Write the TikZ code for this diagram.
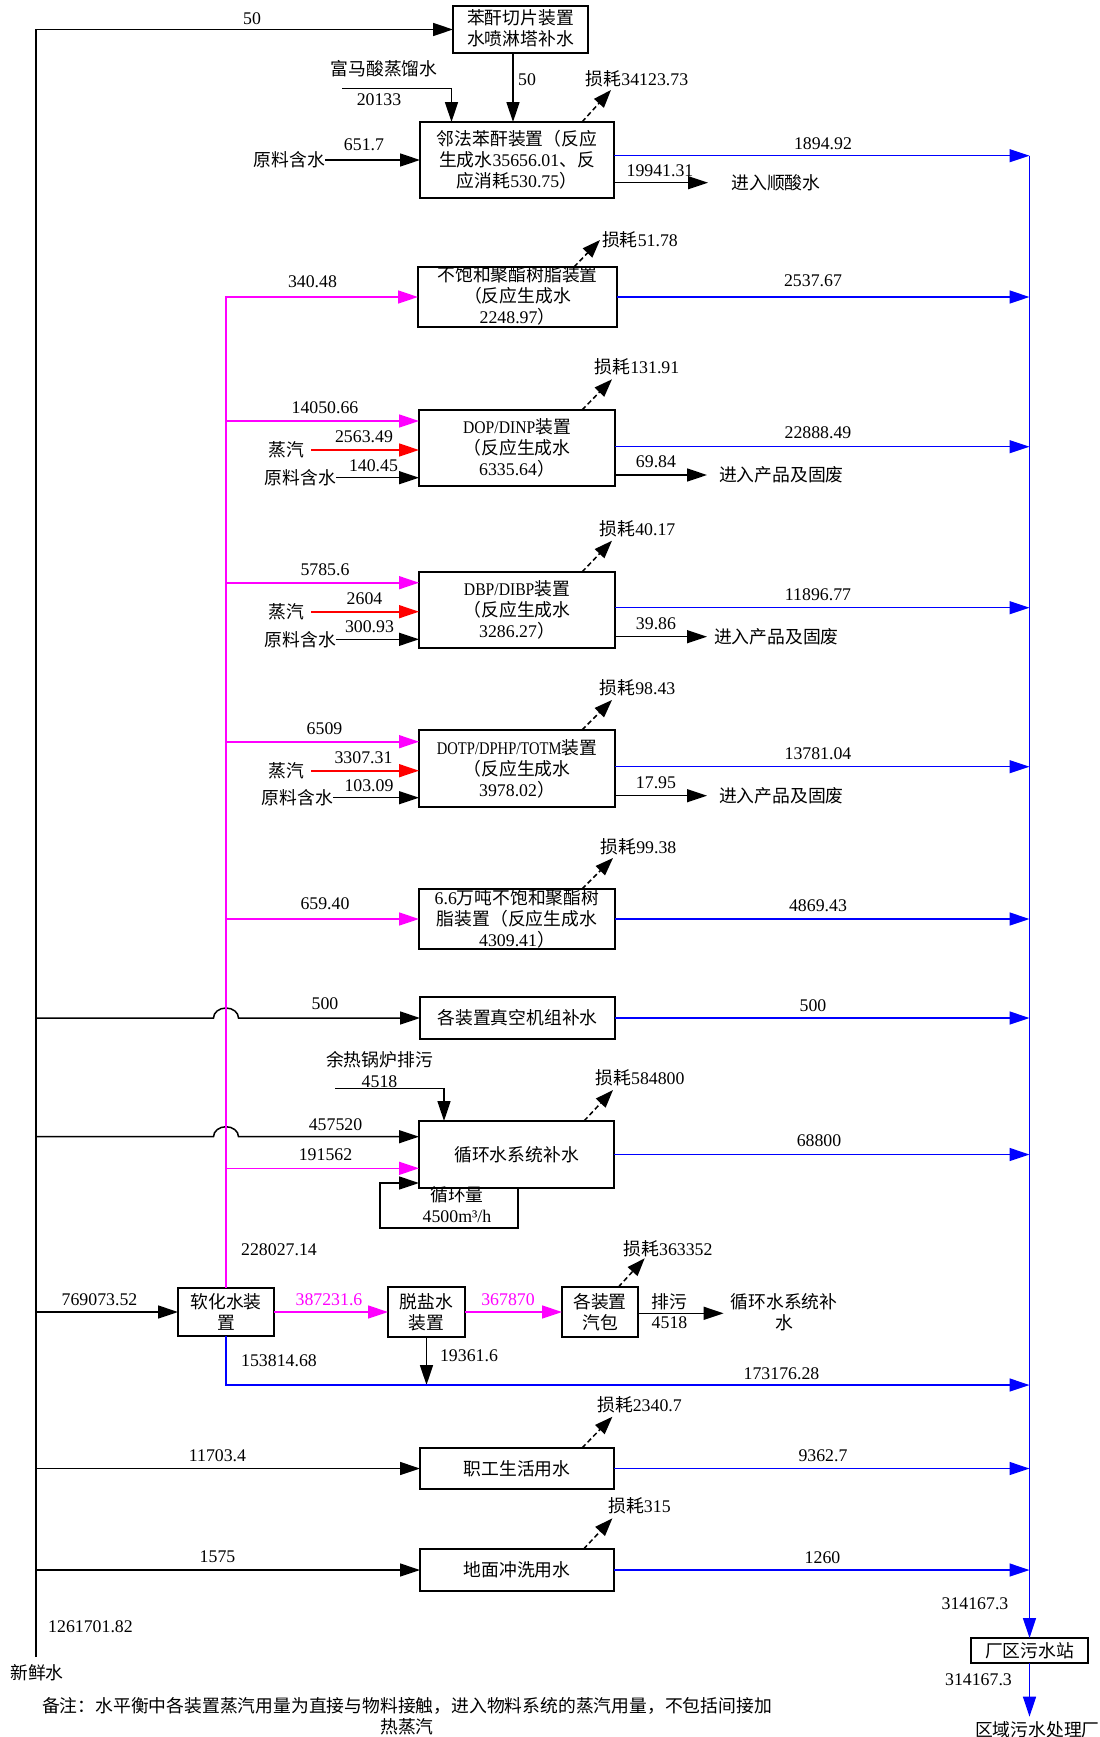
\documentclass[tikz,border=0pt]{standalone}
\usepackage{graphicx}
\usepackage{fontspec}
\setmainfont{Liberation Serif}
\newfontfamily\zhfont{Noto Sans CJK SC}
\newcommand\zh[1]{{\zhfont #1}}
\newcommand\nar[2]{\scalebox{#1}[1]{#2}}
\usetikzlibrary{arrows.meta,calc}
\definecolor{mag}{RGB}{255,0,255}
\definecolor{blu}{RGB}{0,0,255}
\definecolor{rd}{RGB}{255,0,0}
\tikzset{
  every node/.style={font=\fontsize{17.8}{21}\selectfont, inner sep=0pt, outer sep=0pt},
  box/.style 2 args={draw, line width=1.4pt, minimum width=#1pt, minimum height=#2pt},
  btxt/.style={align=center},
  tipA/.style={-{Triangle[length=20pt,width=13pt]}},
  blk/.style={draw=black, line width=1.5pt, tipA},
  blkl/.style={draw=black, line width=1.5pt},
  mga/.style={draw=mag, line width=1.6pt, tipA},
  mgl/.style={draw=mag, line width=1.6pt},
  rda/.style={draw=rd, line width=1.6pt, tipA},
  blua/.style={draw=blu, line width=1.4pt, tipA},
  loss/.style={draw=black, line width=1.5pt, dash pattern=on 5pt off 3pt, -{Triangle[length=18pt,width=13pt]}},
}
\begin{document}
\begin{tikzpicture}[x=1pt,y=-1pt]
\useasboundingbox (0,0) rectangle (1100,1737);

% ---------- boxes ----------
\node[box={135}{47}] (bq) at (520.5,29.5) {};
\node[btxt] (tbq) at (520.5,28) {\zh{苯酐切片装置}\\\zh{水喷淋塔补水}};
\node[box={194}{76}] (b1) at (517,160) {};
\node[btxt] (tb1) at (b1) {\zh{邻法苯酐装置（反应}\\\zh{生成水}35656.01\zh{、反}\\\zh{应消耗}530.75\zh{）}};
\node[box={199}{60}] (b2) at (517.5,297) {};
\node[btxt] (tb2) at (517.5,296) {\zh{不饱和聚酯树脂装置}\\\zh{（反应生成水}\\2248.97\zh{）}};
\node[box={196}{76}] (b3) at (517,448) {};
\node[btxt] (tb3) at (b3) {\nar{0.88}{DOP/DINP}\zh{装置}\\\zh{（反应生成水}\\6335.64\zh{）}};
\node[box={196}{76}] (b4) at (517,610) {};
\node[btxt] (tb4) at (b4) {\nar{0.88}{DBP/DIBP}\zh{装置}\\\zh{（反应生成水}\\3286.27\zh{）}};
\node[box={196}{77}] (b5) at (517,768.5) {};
\node[btxt] (tb5) at (b5) {\nar{0.82}{DOTP/DPHP/TOTM}\zh{装置}\\\zh{（反应生成水}\\3978.02\zh{）}};
\node[box={196}{60}] (b6) at (517,919) {};
\node[btxt] (tb6) at (517,918.5) {6.6\zh{万吨不饱和聚酯树}\\\zh{脂装置（反应生成水}\\4309.41\zh{）}};
\node[box={195}{42}] (b7) at (517.5,1018) {};
\node (tb7) at (b7) {\zh{各装置真空机组补水}};
\node[box={195}{67}] (b8) at (516.5,1154.5) {};
\node (tb8) at (b8) {\zh{循环水系统补水}};
\node[box={96}{48}] (b9) at (226,1312) {};
\node[btxt] (tb9) at (b9) {\zh{软化水装}\\\zh{置}};
\node[box={77}{50}] (b10) at (426.5,1312) {};
\node[btxt] (tb10) at (b10) {\zh{脱盐水}\\\zh{装置}};
\node[box={76}{50}] (b11) at (600,1312) {};
\node[btxt] (tb11) at (b11) {\zh{各装置}\\\zh{汽包}};
\node[box={194}{41}] (b12) at (517,1468.5) {};
\node (tb12) at (b12) {\zh{职工生活用水}};
\node[box={194}{42}] (b13) at (517,1570) {};
\node (tb13) at (b13) {\zh{地面冲洗用水}};
\node[box={117}{25}] (b14) at (1029.5,1650.5) {};
\node (tb14) at (b14) {\zh{厂区污水站}};

% ---------- coordinates ----------
\coordinate (fw) at (36,1657);
\coordinate (fa) at (342,88.3);
\coordinate (u1) at (1029.5,155.7);
\coordinate (u3) at (1029.5,446.7);
\coordinate (u4) at (1029.5,607.7);
\coordinate (u5) at (1029.5,766.7);
\coordinate (u10) at (1029.5,1385);
\coordinate (rg) at (1029.5,1716.7);
\coordinate (o1) at (708,182.7);
\coordinate (o3) at (707,475);
\coordinate (o4) at (707,636.7);
\coordinate (o5) at (707,795.7);
\coordinate (m3) at (226,421);
\coordinate (m4) at (226,582.7);
\coordinate (m5) at (226,741.7);
\coordinate (m8) at (226,1168.3);
\coordinate (j8) at (36,1136.7);
\coordinate (yr) at (335,1088.3);
\coordinate (c1) at (518,1228);
\coordinate (c2) at (380,1228);
\coordinate (c3) at (380,1183);
\coordinate (px) at (723.6,1313.3);
\coordinate (L1) at (611,90);
\coordinate (L2) at (600,240);
\coordinate (L3) at (612,379.3);
\coordinate (L4) at (612,540.7);
\coordinate (L5) at (612,700);
\coordinate (L6) at (613,858);
\coordinate (L8) at (613,1090);
\coordinate (L11) at (644.7,1258.3);
\coordinate (L12) at (612.4,1416.7);
\coordinate (L13) at (612.4,1518.3);

% ---------- labels ----------
\node (n01) at (252,18.3) {50};
\node (n02) at (384,68.3) {\zh{富马酸蒸馏水}};
\node (n03) at (379,100) {20133};
\node (n04) at (527,80) {50};
\node[anchor=east] (n05) at (325,160) {\zh{原料含水}};
\node (n06) at (364,145) {651.7};
\node (n07) at (637,79) {\zh{损耗}34123.73};
\node (n08) at (823,143.3) {1894.92};
\node (n09) at (660,170.7) {19941.31};
\node (n10) at (776,182.7) {\zh{进入顺酸水}};
\node (n11) at (312.5,282) {340.48};
\node (n12) at (640,240) {\zh{损耗}51.78};
\node (n13) at (813,281) {2537.67};
\node (n14) at (325,407.7) {14050.66};
\node (n15) at (286.5,450) {\zh{蒸汽}};
\node (n16) at (364,437) {2563.49};
\node[anchor=east] (n17) at (336,477.7) {\zh{原料含水}};
\node (n18) at (373.5,465.7) {140.45};
\node (n19) at (637,366.7) {\zh{损耗}131.91};
\node (n20) at (818,432.5) {22888.49};
\node (n21) at (656,461.7) {69.84};
\node[anchor=west] (n22) at (719,475) {\zh{进入产品及固废}};
\node (n23) at (325,570) {5785.6};
\node (n24) at (286.5,611.7) {\zh{蒸汽}};
\node (n25) at (364.5,599) {2604};
\node[anchor=east] (n26) at (336,639.3) {\zh{原料含水}};
\node (n27) at (369.5,626.7) {300.93};
\node (n28) at (637.5,528.3) {\zh{损耗}40.17};
\node (n29) at (818,595) {11896.77};
\node (n30) at (656,624) {39.86};
\node[anchor=west] (n31) at (714,636.7) {\zh{进入产品及固废}};
\node (n32) at (324.5,729) {6509};
\node (n33) at (286.5,770.7) {\zh{蒸汽}};
\node (n34) at (363.5,757.3) {3307.31};
\node[anchor=east] (n35) at (333,797.7) {\zh{原料含水}};
\node (n36) at (369,785.7) {103.09};
\node (n37) at (637.5,687.3) {\zh{损耗}98.43};
\node (n38) at (818,753.5) {13781.04};
\node (n39) at (656,782.7) {17.95};
\node[anchor=west] (n40) at (719,795.7) {\zh{进入产品及固废}};
\node (n41) at (325,904) {659.40};
\node (n42) at (638.5,846.7) {\zh{损耗}99.38};
\node (n43) at (818,905.5) {4869.43};
\node (n44) at (325,1004) {500};
\node (n45) at (813,1005.5) {500};
\node (n46) at (379.5,1060) {\zh{余热锅炉排污}};
\node (n47) at (379.5,1081.7) {4518};
\node (n48) at (335.5,1124.3) {457520};
\node (n49) at (325.5,1155) {191562};
\node (n50) at (640,1077.3) {\zh{损耗}584800};
\node (n51) at (819,1140.3) {68800};
\node (n52) at (457,1195) {\zh{循环量}};
\node (n53) at (457,1216.7) {4500m³/h};
\node (n54) at (279,1249.3) {228027.14};
\node (n55) at (99.5,1300) {769073.52};
\node[text=mag] (n56) at (329,1300) {387231.6};
\node[text=mag] (n57) at (508,1300) {367870};
\node (n58) at (469,1356) {19361.6};
\node (n59) at (279,1360.7) {153814.68};
\node (n60) at (668,1248.3) {\zh{损耗}363352};
\node (n61) at (669.5,1301.7) {\zh{排污}};
\node (n62) at (669.5,1322.7) {4518};
\node[btxt] (n63) at (784,1312) {\zh{循环水系统补}\\\zh{水}};
\node (n64) at (781.5,1374) {173176.28};
\node (n65) at (639.5,1405) {\zh{损耗}2340.7};
\node (n66) at (217.5,1456) {11703.4};
\node (n67) at (823,1456) {9362.7};
\node (n68) at (639.5,1506) {\zh{损耗}315};
\node (n69) at (217.5,1556.7) {1575};
\node (n70) at (822.5,1557.5) {1260};
\node (n71) at (975,1604) {314167.3};
\node (n72) at (978.5,1680) {314167.3};
\node (n73) at (90.5,1627) {1261701.82};
\node (n74) at (37,1673) {\zh{新鲜水}};
\node[btxt, font=\fontsize{17.8}{21}\selectfont] (n75) at (407,1716.5) {\zh{备注：水平衡中各装置蒸汽用量为直接与物料接触，进入物料系统的蒸汽用量，不包括间接加}\\\zh{热蒸汽}};
\node[anchor=west] (n76) at (975,1730) {\zh{区域污水处理厂}};

% ---------- black fresh water ----------
\draw[blk] (fw) |- (bq.west);
\draw[blk] (fw |- b7.west) -- ($(b9.north |- b7.west)+(-12.5,0)$) arc[start angle=180, end angle=360, x radius=12.5, y radius=10] -- (b7.west);
\draw[blk] (j8) -- ($(b9.north |- j8)+(-12.5,0)$) arc[start angle=180, end angle=360, x radius=12.5, y radius=10] -- (j8 -| b8.west);
\draw[blk] (fw |- b9.west) -- (b9.west);
\draw[blk] (fw |- b12.west) -- (b12.west);
\draw[blk] (fw |- b13.west) -- (b13.west);

% ---------- top ----------
\draw[blk] (fa) -| ([xshift=-65.5pt]b1.north);
\draw[blk] ([xshift=-7.5pt]bq.south) -- ([xshift=-4pt]b1.north);
\draw[blk] (n05.east) -- (n05.east -| b1.west);
\draw[blk] (o1 -| b1.east) -- (o1);

% ---------- magenta soft water ----------
\draw[mga] (b9.north) |- (b2.west);
\draw[mga] (m3) -- (m3 -| b3.west);
\draw[mga] (m4) -- (m4 -| b4.west);
\draw[mga] (m5) -- (m5 -| b5.west);
\draw[mga] (b9.north |- b6.west) -- (b6.west);
\draw[mga] (m8) -- (m8 -| b8.west);
\draw[mga] (b9.east) -- (b10.west);
\draw[mga] (b10.east) -- (b11.west);

% ---------- steam and raw water ----------
\draw[rda] ([xshift=7pt]n15.east) -- (n15.east -| b3.west);
\draw[rda] ([xshift=7pt]n24.east) -- (n24.east -| b4.west);
\draw[rda] ([xshift=7pt]n33.east) -- (n33.east -| b5.west);
\draw[blk] (n17.east) -- (n17.east -| b3.west);
\draw[blk] (n26.east) -- (n26.east -| b4.west);
\draw[blk] (n35.east) -- (n35.east -| b5.west);
\draw[blk] (o3 -| b3.east) -- (o3);
\draw[blk] (o4 -| b4.east) -- (o4);
\draw[blk] (o5 -| b5.east) -- (o5);

% ---------- circulating water ----------
\draw[blk] (yr) -| ([xshift=-72.5pt]b8.north);
\draw[blk] (c1 |- b8.south) -- (c1) -- (c2) -- (c3) -- (c3 -| b8.west);
\draw[blk] (b10.south) -- (b10.south |- u10);
\draw[blk] (px -| b11.east) -- (px);

% ---------- blue waste water ----------
\draw[blua] (u1 -| b1.east) -- (u1);
\draw[blua] (b2.east) -- (b2.east -| u1);
\draw[blua] (u3 -| b3.east) -- (u3);
\draw[blua] (u4 -| b4.east) -- (u4);
\draw[blua] (u5 -| b5.east) -- (u5);
\draw[blua] (b6.east) -- (b6.east -| u1);
\draw[blua] (b7.east) -- (b7.east -| u1);
\draw[blua] (b8.east) -- (b8.east -| u1);
\draw[blua] (b9.south) |- (u10);
\draw[blua] (b12.east) -- (b12.east -| u1);
\draw[blua] (b13.east) -- (b13.east -| u1);
\draw[blua] (u1) -- (b14.north);
\draw[blua] (b14.south) -- (rg);

% ---------- losses ----------
\draw[loss] ([xshift=65pt]b1.north) -- (L1);
\draw[loss] ([xshift=56.5pt]b2.north) -- (L2);
\draw[loss] ([xshift=65pt]b3.north) -- (L3);
\draw[loss] ([xshift=65pt]b4.north) -- (L4);
\draw[loss] ([xshift=65pt]b5.north) -- (L5);
\draw[loss] ([xshift=65pt]b6.north) -- (L6);
\draw[loss] ([xshift=67.5pt]b8.north) -- (L8);
\draw[loss] ([xshift=18.4pt]b11.north) -- (L11);
\draw[loss] ([xshift=65pt]b12.north) -- (L12);
\draw[loss] ([xshift=66.6pt]b13.north) -- (L13);
\end{tikzpicture}
\end{document}
